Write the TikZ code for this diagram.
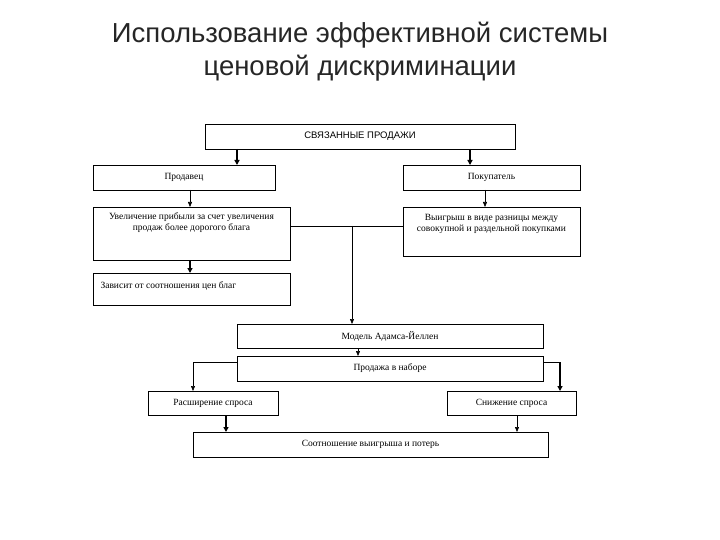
\documentclass[tikz,border=0pt]{standalone}
\usepackage{fontspec}
\setmainfont{Liberation Serif}
\newfontfamily\sansf{Liberation Sans}
\usetikzlibrary{arrows.meta}
\begin{document}
\begin{tikzpicture}[x=1pt,y=-1pt,
  bx/.style={draw,line width=0.7pt,inner sep=0pt,font=\fontsize{9.5}{11}\selectfont},
  ar/.style={line width=0.6pt,-{Triangle[length=5pt,width=4pt]}},
  tar/.style={line width=1.4pt,-{Triangle[length=5pt,width=5pt]}},
  ln/.style={line width=0.6pt}]
\useasboundingbox (0,0) rectangle (720,540);
\node[font=\sansf\fontsize{27.5}{33}\selectfont,align=center,text=black!85] (title) at (360,52) {Использование эффективной системы\\ценовой дискриминации};
\draw[line width=0.7pt] (205,124) rectangle (515,149);
\node[font=\sansf\fontsize{9.5}{10}\selectfont] (top) at (360,136) {СВЯЗАННЫЕ ПРОДАЖИ};
\node[bx,minimum width=182pt,minimum height=25pt] (prod) at (184,177.5) {Продавец};
\node[bx,minimum width=177pt,minimum height=25pt] (pok) at (491.5,177.5) {Покупатель};
\node[bx,minimum width=197pt,minimum height=53pt,anchor=north west] (uvel) at (93,207) {};
\node[font=\fontsize{9.5}{11}\selectfont,align=center,anchor=north] (uvelt) at (191.5,209) {Увеличение прибыли за счет увеличения\\продаж более дорогого блага};
\node[bx,minimum width=177pt,minimum height=49pt,anchor=north west] (vyig) at (403,207) {};
\node[font=\fontsize{9.5}{11}\selectfont,align=center,anchor=north] (vyigt) at (491.5,211) {Выигрыш в виде разницы между\\совокупной и раздельной покупками};
\node[bx,minimum width=197pt,minimum height=32pt,anchor=north west] (zav) at (93,273) {};
\node[font=\fontsize{9.5}{11}\selectfont,anchor=west] (zavt) at (97,286) {Зависит от соотношения цен благ};
\node[bx,minimum width=306pt,minimum height=24pt] (mod) at (390,336) {Модель Адамса-Йеллен};
\node[bx,minimum width=306pt,minimum height=25pt] (nab) at (390,368.5) {Продажа в наборе};
\node[bx,minimum width=130pt,minimum height=24pt] (ras) at (213,403) {Расширение спроса};
\node[bx,minimum width=129pt,minimum height=24pt] (sni) at (511.5,403) {Снижение спроса};
\node[bx,minimum width=355pt,minimum height=25pt] (soot) at (370.5,444.5) {Соотношение выигрыша и потерь};
\draw[tar] (237,149) -- (237,165);
\draw[tar] (470,149) -- (470,165);
\draw[ar] (190,190) -- (190,207);
\draw[ar] (485,190) -- (485,207);
\draw[tar] (190,260) -- (190,273);
\draw[ln] (290,226) -- (403,226);
\coordinate (j) at (352,226);
\draw[ar] (j) -- (352,324);
\draw[ar] (358,348) -- (358,356);
\draw[ar] (237,362) -| (193,391);
\draw[ln] (543,362) -- (560,362);
\draw[tar] (560,362) -- (560,391);
\draw[tar] (226,415) -- (226,432);
\draw[ar] (517,415) -- (517,432);
\end{tikzpicture}
\end{document}
